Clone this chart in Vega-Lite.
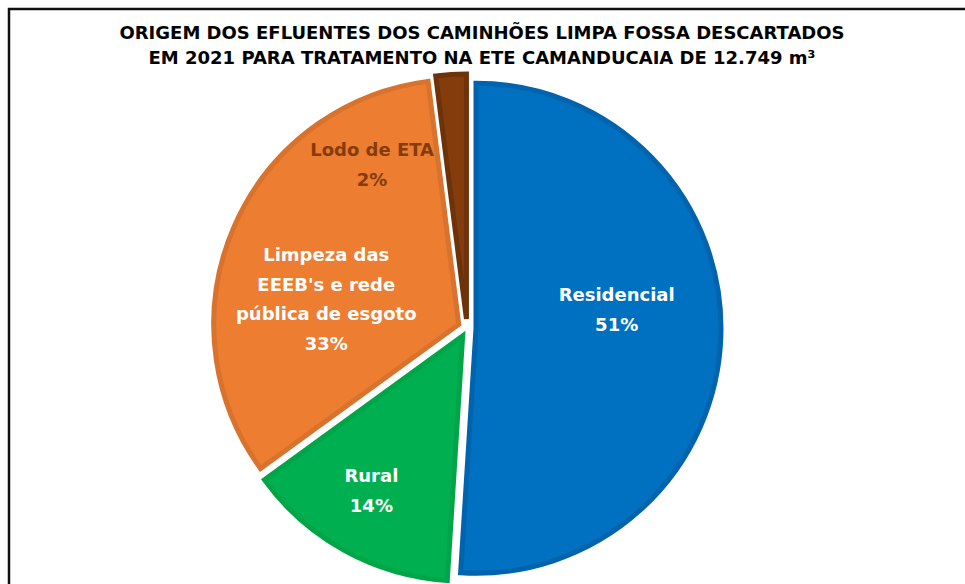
{
  "$schema": "https://vega.github.io/schema/vega-lite/v6.json",
  "autosize": "none",
  "width": 1000,
  "height": 620,
  "padding": {"left": 9, "top": 9, "right": 0, "bottom": 0},
  "background": "white",
  "config": {
    "view": {"stroke": "#111111", "strokeWidth": 2.5},
    "style": {"view": {"stroke": "#111111", "strokeWidth": 2.5}, "cell": {"stroke": "#111111", "strokeWidth": 2.5}}
  },
  "title": {
    "text": ["ORIGEM DOS EFLUENTES DOS CAMINHÕES LIMPA FOSSA DESCARTADOS", "EM 2021 PARA TRATAMENTO NA ETE  CAMANDUCAIA DE 12.749 m³"],
    "anchor": "middle",
    "frame": "group",
    "font": "DejaVu Sans",
    "fontWeight": "bold",
    "fontSize": 18,
    "lineHeight": 25,
    "color": "#000000",
    "baseline": "top",
    "offset": 0,
    "dx": -27,
    "dy": 59
  },
  "data": {
    "values": [
      {"cat": "Residencial", "share": 51, "ord": 1, "lines": ["Residencial", "51%"]},
      {"cat": "Rural", "share": 14, "ord": 2, "lines": ["Rural", "14%"]},
      {"cat": "Limpeza das EEEB's e rede pública de esgoto", "share": 33, "ord": 3, "lines": ["Limpeza das", "EEEB's e rede", "pública de esgoto", "33%"]},
      {"cat": "Lodo de ETA", "share": 2, "ord": 4, "lines": ["Lodo de ETA", "2%"]}
    ]
  },
  "encoding": {
    "theta": {"field": "share", "type": "quantitative", "stack": true},
    "order": {"field": "ord", "type": "quantitative"}
  },
  "layer": [
    {
      "mark": {
        "type": "arc",
        "x": 458,
        "y": 319,
        "outerRadius": 245,
        "strokeWidth": 5,
        "strokeJoin": "miter",
        "xOffset": {"expr": "9*sin((scale('theta', datum.share_start)+scale('theta', datum.share_end))/2)"},
        "yOffset": {"expr": "-9*cos((scale('theta', datum.share_start)+scale('theta', datum.share_end))/2)"}
      },
      "encoding": {
        "color": {
          "field": "cat", "type": "nominal", "legend": null,
          "scale": {"domain": ["Residencial", "Rural", "Limpeza das EEEB's e rede pública de esgoto", "Lodo de ETA"], "range": ["#0070C0", "#00B050", "#ED7D31", "#843C0C"]}
        },
        "stroke": {
          "field": "cat", "type": "nominal", "legend": null,
          "scale": {"domain": ["Residencial", "Rural", "Limpeza das EEEB's e rede pública de esgoto", "Lodo de ETA"], "range": ["#0063AE", "#00A548", "#D8722C", "#6E3209"]}
        }
      }
    },
    {
      "mark": {"type": "text", "x": 458, "y": 319, "radius": 153, "thetaOffset": -0.241, "font": "DejaVu Sans", "fontWeight": "bold", "fontSize": 18, "lineHeight": 30, "align": "center", "baseline": "middle", "fill": "#FFFFFF"},
      "encoding": {"text": {"condition": {"test": "datum.ord === 1", "field": "lines", "type": "nominal"}, "value": ""}}
    },
    {
      "mark": {"type": "text", "x": 458, "y": 319, "radius": 177, "thetaOffset": 0.068, "font": "DejaVu Sans", "fontWeight": "bold", "fontSize": 18, "lineHeight": 30, "align": "center", "baseline": "middle", "fill": "#FFFFFF"},
      "encoding": {"text": {"condition": {"test": "datum.ord === 2", "field": "lines", "type": "nominal"}, "value": ""}}
    },
    {
      "mark": {"type": "text", "x": 458, "y": 319, "radius": 158, "thetaOffset": 0.063, "font": "DejaVu Sans", "fontWeight": "bold", "fontSize": 18, "lineHeight": 29.5, "align": "center", "baseline": "middle", "fill": "#FFFFFF"},
      "encoding": {"text": {"condition": {"test": "datum.ord === 3", "field": "lines", "type": "nominal"}, "value": ""}}
    },
    {
      "mark": {"type": "text", "x": 458, "y": 319, "radius": 201, "thetaOffset": -0.429, "font": "DejaVu Sans", "fontWeight": "bold", "fontSize": 18, "lineHeight": 30, "align": "center", "baseline": "middle", "fill": "#843C0C"},
      "encoding": {"text": {"condition": {"test": "datum.ord === 4", "field": "lines", "type": "nominal"}, "value": ""}}
    }
  ]
}
